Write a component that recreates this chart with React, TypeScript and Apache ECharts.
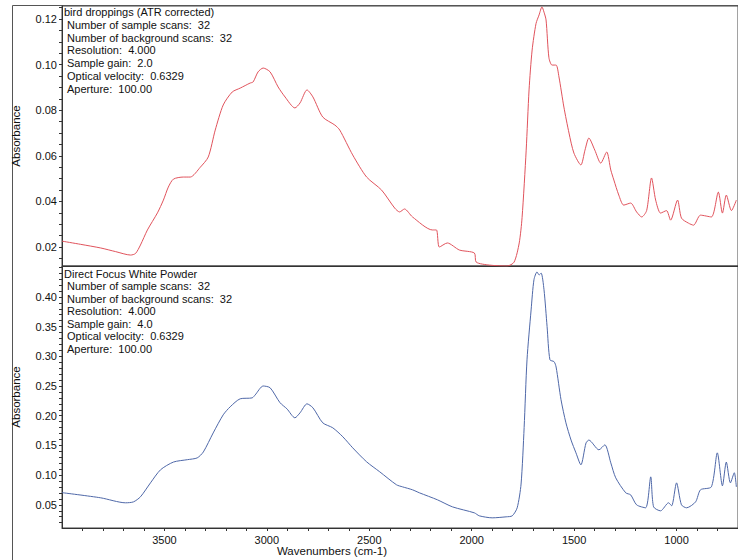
import React, { useEffect, useRef } from "react";
import * as echarts from "echarts";

// Top spectrum: bird droppings (ATR corrected)
const birdWavenumbers = [
  4000, 3909, 3811, 3738, 3665, 3641, 3617, 3583, 3534, 3505, 3481, 3456, 3408, 3374, 3325, 3286,
  3252, 3213, 3169, 3130, 3082, 3067, 3043, 3018, 2984, 2945, 2911, 2863, 2838, 2804, 2775, 2727,
  2668, 2644, 2581, 2513, 2440, 2376, 2352, 2328, 2289, 2192, 2172, 2158, 2119, 2060, 1987, 1978,
  1914, 1827, 1793, 1768, 1754, 1734, 1720, 1705, 1686, 1671, 1657, 1647, 1637, 1623, 1608, 1588,
  1574, 1550, 1525, 1501, 1467, 1447, 1428, 1399, 1370, 1341, 1321, 1306, 1282, 1258, 1224, 1195,
  1170, 1146, 1122, 1102, 1078, 1049, 1029, 995, 976, 942, 917, 883, 830, 796, 776, 757, 732, 708,
];
const birdAbsorbance = [
  0.0226, 0.0212, 0.0196, 0.018, 0.0165, 0.0172, 0.0209, 0.0275, 0.035, 0.0406, 0.0463, 0.0498,
  0.0507, 0.0507, 0.055, 0.0595, 0.0713, 0.0823, 0.088, 0.0897, 0.0919, 0.0924, 0.0968, 0.0985,
  0.0968, 0.0902, 0.0858, 0.081, 0.0832, 0.0889, 0.0858, 0.077, 0.0735, 0.0713, 0.0604, 0.0507,
  0.045, 0.0371, 0.0354, 0.0367, 0.0332, 0.0275, 0.0275, 0.02, 0.0218, 0.0187, 0.0174, 0.0134,
  0.0121, 0.0117, 0.0134, 0.0218, 0.033, 0.0625, 0.0889, 0.1064, 0.118, 0.1218, 0.1253, 0.123,
  0.1196, 0.103, 0.0998, 0.0998, 0.0946, 0.0814, 0.07, 0.0612, 0.056, 0.0625, 0.0678, 0.0625,
  0.0568, 0.0617, 0.0538, 0.0494, 0.0428, 0.0384, 0.0393, 0.0354, 0.0332, 0.036, 0.0503, 0.0406,
  0.0349, 0.036, 0.0318, 0.0406, 0.0327, 0.0305, 0.0296, 0.034, 0.0332, 0.0441, 0.0349, 0.0428,
  0.036, 0.0406,
];

// Bottom spectrum: Direct Focus White Powder
const powderWavenumbers = [
  4000, 3811, 3690, 3651, 3617, 3568, 3519, 3456, 3388, 3340, 3310, 3262, 3213, 3179, 3130, 3072,
  3057, 3018, 2984, 2936, 2902, 2863, 2838, 2804, 2775, 2727, 2678, 2629, 2581, 2513, 2449, 2367,
  2338, 2289, 2255, 2167, 2094, 1987, 1963, 1900, 1832, 1802, 1778, 1759, 1744, 1730, 1710, 1696,
  1681, 1671, 1661, 1647, 1632, 1618, 1598, 1588, 1564, 1540, 1515, 1491, 1467, 1442, 1428, 1379,
  1350, 1321, 1297, 1248, 1224, 1195, 1151, 1126, 1112, 1078, 1039, 1024, 1000, 976, 951, 907, 883,
  830, 801, 776, 757, 737, 718, 708,
];
const powderAbsorbance = [
  0.0705, 0.0618, 0.0534, 0.055, 0.0635, 0.087, 0.109, 0.122, 0.126, 0.129, 0.139, 0.171, 0.2015,
  0.215, 0.2285, 0.23, 0.235, 0.25, 0.247, 0.222, 0.2116, 0.1965, 0.2049, 0.22, 0.2133, 0.188,
  0.1796, 0.1645, 0.146, 0.1224, 0.1056, 0.0837, 0.0803, 0.0753, 0.0702, 0.0584, 0.0466, 0.0365,
  0.0315, 0.0281, 0.0298, 0.0315, 0.045, 0.085, 0.18, 0.294, 0.378, 0.429, 0.442, 0.437, 0.44,
  0.412, 0.35, 0.294, 0.291, 0.282, 0.227, 0.188, 0.159, 0.1375, 0.1173, 0.154, 0.159, 0.1426,
  0.151, 0.1207, 0.0955, 0.0702, 0.0668, 0.05, 0.045, 0.0971, 0.0466, 0.0399, 0.0534, 0.0483,
  0.087, 0.05, 0.045, 0.055, 0.0753, 0.0803, 0.1375, 0.082, 0.122, 0.087, 0.104, 0.08,
];

const xLabelValues = [3500, 3000, 2500, 2000, 1500, 1000];
const topYLabels = [0.02, 0.04, 0.06, 0.08, 0.1, 0.12];
const bottomYLabels = [0.05, 0.1, 0.15, 0.2, 0.25, 0.3, 0.35, 0.4];

const birdInfo = [
  "Number of sample scans:  32",
  "Number of background scans:  32",
  "Resolution:  4.000",
  "Sample gain:  2.0",
  "Optical velocity:  0.6329",
  "Aperture:  100.00",
];
const powderInfo = [
  "Number of sample scans:  32",
  "Number of background scans:  32",
  "Resolution:  4.000",
  "Sample gain:  4.0",
  "Optical velocity:  0.6329",
  "Aperture:  100.00",
];

const FONT = "'Liberation Sans', Arial, sans-serif";

function zip(a: number[], b: number[]) {
  return a.map((v, i) => [v, b[i]]);
}

function range(start: number, end: number, step: number) {
  const out: number[] = [];
  for (let v = start; v <= end + 1e-9; v += step) out.push(Math.round(v * 10000) / 10000);
  return out;
}

export default function App() {
  const ref = useRef<HTMLDivElement>(null);
  useEffect(() => {
    if (!ref.current) return;
    const chart = echarts.init(ref.current, null, { renderer: "svg" });

    const textEls: any[] = [];
    textEls.push({
      type: "text",
      left: 64,
      top: 6,
      style: { text: "bird droppings (ATR corrected)", font: `11px ${FONT}`, fill: "#111" },
    });
    birdInfo.forEach((t, i) => {
      textEls.push({
        type: "text",
        left: 67,
        top: 19.5 + i * 12.7,
        style: { text: t, font: `11px ${FONT}`, fill: "#111" },
      });
    });
    textEls.push({
      type: "text",
      left: 64,
      top: 268,
      style: { text: "Direct Focus White Powder", font: `11px ${FONT}`, fill: "#111" },
    });
    powderInfo.forEach((t, i) => {
      textEls.push({
        type: "text",
        left: 67,
        top: 280.5 + i * 12.6,
        style: { text: t, font: `11px ${FONT}`, fill: "#111" },
      });
    });
    textEls.push({
      type: "text",
      x: 332,
      y: 551,
      style: {
        text: "Wavenumbers (cm-1)",
        font: `11.5px ${FONT}`,
        fill: "#111",
        textAlign: "center",
        textVerticalAlign: "middle",
      },
    });
    textEls.push({
      type: "polyline",
      shape: { points: [[12.5, 560], [12.5, 5.5], [738, 5.5]] },
      style: { stroke: "#555", lineWidth: 1, fill: null },
      silent: true,
    });

    const xAxisCommon = {
      type: "value",
      inverse: true,
      min: 700,
      max: 4000,
      splitLine: { show: false },
      axisLine: { show: true, lineStyle: { color: "#333", width: 1 } },
    };

    const yAxisCommon = {
      type: "value",
      splitLine: { show: false },
      axisLine: { show: true, lineStyle: { color: "#333", width: 1 } },
      axisTick: { show: true, inside: false, length: 3, lineStyle: { color: "#333" } },
      nameLocation: "middle",
      nameGap: 40,
      nameTextStyle: { fontFamily: FONT, fontSize: 11.5, color: "#111" },
    };

    chart.setOption({
      animation: false,
      backgroundColor: "#ffffff",
      grid: [
        { left: 62, top: 6, right: 0, height: 260, show: true, borderColor: "#444", borderWidth: 1 },
        { left: 62, top: 266, right: 0, height: 262, show: true, borderColor: "#444", borderWidth: 1 },
      ],
      xAxis: [
        {
          ...xAxisCommon,
          gridIndex: 0,
          axisLabel: { show: false },
          axisTick: { show: false },
        },
        {
          ...xAxisCommon,
          gridIndex: 1,
          axisTick: {
            show: true,
            length: 3,
            customValues: range(800, 3900, 100),
            lineStyle: { color: "#333" },
          },
          axisLabel: {
            show: true,
            customValues: xLabelValues,
            formatter: (v: number) => String(v),
            margin: 6,
            fontFamily: FONT,
            fontSize: 11,
            color: "#111",
          },
        },
      ],
      yAxis: [
        {
          ...yAxisCommon,
          gridIndex: 0,
          min: 0.0117,
          max: 0.1257,
          name: "Absorbance",
          axisTick: { ...yAxisCommon.axisTick, customValues: range(0.015, 0.125, 0.005) },
          axisLabel: {
            customValues: topYLabels,
            formatter: (v: number) => v.toFixed(2),
            margin: 5,
            fontFamily: FONT,
            fontSize: 11,
            color: "#111",
          },
        },
        {
          ...yAxisCommon,
          gridIndex: 1,
          min: 0.011,
          max: 0.452,
          name: "Absorbance",
          axisTick: { ...yAxisCommon.axisTick, customValues: range(0.02, 0.45, 0.01) },
          axisLabel: {
            customValues: bottomYLabels,
            formatter: (v: number) => v.toFixed(2),
            margin: 5,
            fontFamily: FONT,
            fontSize: 11,
            color: "#111",
          },
        },
      ],
      series: [
        {
          type: "line",
          xAxisIndex: 0,
          yAxisIndex: 0,
          data: zip(birdWavenumbers, birdAbsorbance),
          showSymbol: false,
          smooth: 0.25,
          lineStyle: { color: "#e0535c", width: 1 },
          itemStyle: { color: "#e0535c" },
          clip: true,
        },
        {
          type: "line",
          xAxisIndex: 1,
          yAxisIndex: 1,
          data: zip(powderWavenumbers, powderAbsorbance),
          showSymbol: false,
          smooth: 0.25,
          lineStyle: { color: "#4f68a8", width: 1 },
          itemStyle: { color: "#4f68a8" },
          clip: true,
        },
      ],
      graphic: textEls,
    });

    return () => chart.dispose();
  }, []);

  return (
    <div
      ref={ref}
      style={{ position: "fixed", left: 0, top: 0, width: 738, height: 560, background: "#fff" }}
    />
  );
}
